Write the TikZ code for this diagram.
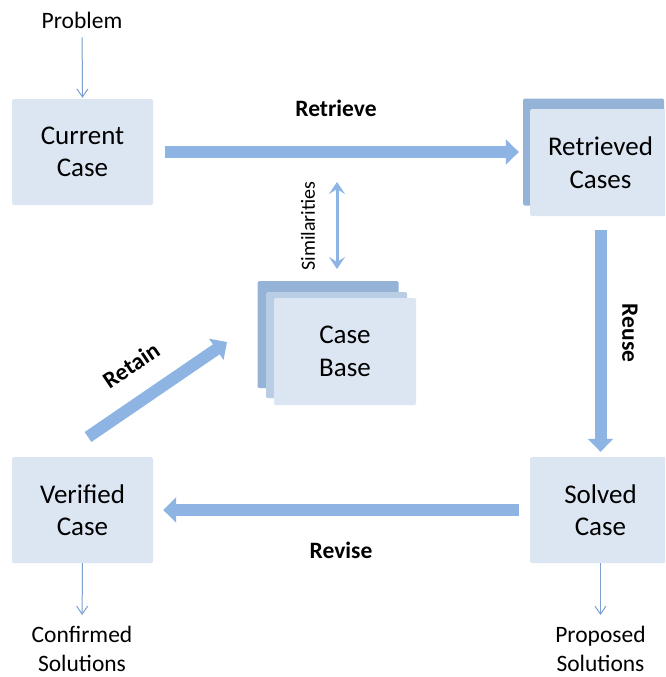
\documentclass[tikz,border=0pt]{standalone}
\usepackage{fontspec}
\setmainfont{Carlito}
\usetikzlibrary{arrows.meta}

\definecolor{boxfill}{HTML}{DCE6F2}
\definecolor{stackdark}{HTML}{95B3D7}
\definecolor{stackmid}{HTML}{B9CDE5}
\definecolor{arrowblue}{HTML}{8EB4E3}
\definecolor{thinblue}{HTML}{7C9FCF}

\tikzset{
  box/.style={fill=boxfill, minimum width=141pt, minimum height=106pt,
    inner sep=0pt, align=center, rounded corners=1.5pt,
    font=\fontsize{27}{32.5}\selectfont},
  backbox/.style={fill=#1, minimum width=141pt, minimum height=107pt,
    inner sep=0pt, rounded corners=1.5pt},
  lbl/.style={inner sep=0pt, align=center, font=\fontsize{23.5}{28.5}\selectfont},
  blbl/.style={inner sep=0pt, font=\fontsize{23.5}{28}\selectfont\bfseries},
  blockarrow/.style={draw=arrowblue, line width=12pt,
    -{Triangle[width=25pt,length=13pt]}},
  thinarrow/.style={draw=thinblue, line width=1pt,
    -{Straight Barb[length=8pt,width=11pt]}},
  simarrow/.style={draw=arrowblue, line width=3pt,
    {Stealth[width=16pt,length=12pt,inset=5pt]}-{Stealth[width=16pt,length=12pt,inset=5pt]}},
}

\begin{document}
\begin{tikzpicture}[x=1pt,y=-1pt]
\clip (0,0) rectangle (665,677);
\fill[white] (0,0) rectangle (665,677);

% main case boxes
\node[box] (cur) at (82.5,152) {Current\\Case};
\node[backbox=stackdark] (retback) at (593.5,152) {};
\node[box, minimum height=107pt] (ret) at (600.5,162.5) {Retrieved\\Cases};
\node[box] (solved) at (600.5,510) {Solved\\Case};
\node[box] (ver) at (82.5,510) {Verified\\Case};

% stacked case base
\node[backbox=stackdark] (cbback) at (328,334.5) {};
\node[backbox=stackmid, minimum height=106pt] (cbmid) at (336.5,345) {};
\node[box, minimum width=142pt, minimum height=107pt] (cb) at (345,351.5) {Case\\Base};

% inputs and outputs
\node[lbl, anchor=base] (prob) at (82,29) {Problem};
\node[lbl, anchor=north] (conf) at (82,626) {Confirmed\\Solutions};
\node[lbl, anchor=north] (prop) at (600.5,626) {Proposed\\Solutions};

\draw[thinarrow, shorten <=8pt, shorten >=1pt] (prob) -- (cur.north);
\draw[thinarrow, shorten >=11pt] (ver.south) -- (conf.north);
\draw[thinarrow, shorten >=11pt] (solved.south) -- (prop.north);

% cycle arrows
\draw[blockarrow, shorten <=12pt, shorten >=4pt] (cur.east) -- (retback.west);
\draw[blockarrow, shorten <=14pt, shorten >=5pt] (ret.south) -- (solved.north);
\draw[blockarrow, shorten <=11pt, shorten >=10pt] (solved.west) -- (ver.east);

\coordinate (rtfrom) at (88,437);
\coordinate (rtto) at (227,342);
\draw[blockarrow] (rtfrom) -- (rtto);

\coordinate (simtop) at (337,182);
\coordinate (simbot) at (337,269);
\draw[simarrow] (simtop) -- (simbot);

% arrow labels
\node[blbl, anchor=base] (lretrieve) at (336,116) {Retrieve};
\node[blbl, anchor=base] (lrevise) at (341,558) {Revise};
\node[blbl, rotate=-90] (lreuse) at (630,333) {Reuse};
\node[blbl, rotate=34] (lretain) at (131,365) {Retain};
\node[inner sep=0pt, rotate=90, font=\fontsize{20}{24}\selectfont] (lsim) at (308,226) {Similarities};
\end{tikzpicture}
\end{document}
